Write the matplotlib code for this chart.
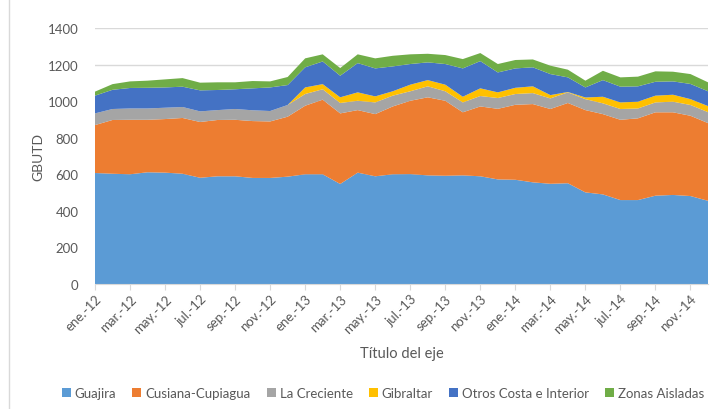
import matplotlib.pyplot as plt
import numpy as np

plt.rcParams["font.family"] = ["Lato", "DejaVu Sans"]

months = [
    "ene.-12", "feb.-12", "mar.-12", "abr.-12", "may.-12", "jun.-12",
    "jul.-12", "ago.-12", "sep.-12", "oct.-12", "nov.-12", "dic.-12",
    "ene.-13", "feb.-13", "mar.-13", "abr.-13", "may.-13", "jun.-13",
    "jul.-13", "ago.-13", "sep.-13", "oct.-13", "nov.-13", "dic.-13",
    "ene.-14", "feb.-14", "mar.-14", "abr.-14", "may.-14", "jun.-14",
    "jul.-14", "ago.-14", "sep.-14", "oct.-14", "nov.-14", "dic.-14",
]

# GBTUD per field
guajira = [607, 603, 600, 611, 609, 603, 581, 589, 589, 580, 580, 587,
           600, 600, 547, 609, 589, 600, 601, 594, 592, 594, 589, 572,
           570, 556, 548, 551, 501, 490, 459, 459, 483, 487, 481, 455]
cusiana = [262, 294, 298, 287, 293, 305, 305, 308, 309, 311, 309, 328,
           375, 408, 386, 342, 340, 371, 401, 427, 410, 345, 382, 386,
           410, 428, 409, 439, 450, 439, 439, 447, 456, 452, 439, 425]
creciente = [64, 60, 62, 62, 62, 60, 58, 54, 59, 59, 57, 64,
             64, 57, 57, 51, 64, 59, 52, 60, 52, 54, 57, 59,
             59, 60, 58, 58, 60, 59, 59, 54, 54, 58, 59, 60]
gibraltar = [0, 0, 0, 0, 0, 0, 0, 0, 0, 0, 0, 0,
             36, 28, 31, 46, 33, 24, 36, 34, 36, 31, 42, 31,
             34, 37, 18, 2, 9, 36, 36, 37, 37, 38, 32, 33]
otros = [97, 105, 112, 113, 111, 111, 115, 110, 108, 120, 129, 109,
         110, 124, 118, 160, 153, 136, 113, 97, 113, 155, 149, 109,
         106, 104, 115, 80, 55, 91, 86, 84, 76, 73, 83, 81]
aisladas = [22, 31, 36, 39, 44, 47, 42, 42, 38, 40, 33, 44,
            49, 39, 42, 48, 55, 58, 53, 47, 49, 51, 44, 46,
            46, 43, 46, 42, 37, 51, 51, 53, 57, 53, 54, 49]

series_names = ["Guajira", "Cusiana-Cupiagua", "La Creciente", "Gibraltar",
                "Otros Costa e Interior", "Zonas Aisladas"]
colors = ["#5B9BD5", "#ED7D31", "#A5A5A5", "#FFC000", "#4472C4", "#70AD47"]

fig = plt.figure(figsize=(7.22, 4.10), dpi=100)
ax = fig.add_axes([95 / 722, 1 - 285 / 410, (708 - 95) / 722, (285 - 29) / 410])

x = np.arange(len(months))
ax.stackplot(x, guajira, cusiana, creciente, gibraltar, otros, aisladas,
             colors=colors, labels=series_names, linewidth=0)

txt = "#595959"
ax.set_xlim(0, len(months) - 1)
ax.set_ylim(0, 1400)
ax.set_yticks(range(0, 1401, 200))
ax.yaxis.grid(True, color="#D9D9D9", linewidth=1)
ax.set_axisbelow(True)
for s in ["top", "right", "left"]:
    ax.spines[s].set_visible(False)
ax.spines["bottom"].set_color("#D9D9D9")
ax.tick_params(axis="y", length=0, labelsize=9.5, labelcolor=txt, pad=12)
ax.set_xticks(x[::2])
ax.set_xticklabels(months[::2], rotation=45, ha="right", rotation_mode="anchor")
ax.tick_params(axis="x", length=4, color="#D9D9D9", labelsize=9.5,
               labelcolor=txt, pad=2)

ax.set_ylabel("GBUTD", fontsize=10, color=txt, labelpad=2)
ax.set_xlabel("Título del eje", fontsize=10.5, color=txt, labelpad=8)

handles, labels = ax.get_legend_handles_labels()
fig.legend(handles, labels, loc="center", bbox_to_anchor=(383 / 722, 1 - 394 / 410),
           ncol=6, frameon=False, fontsize=9.5, labelcolor=txt,
           handlelength=0.7, handleheight=0.7, handletextpad=0.3, columnspacing=1.2)

fig.add_artist(plt.Line2D([9 / 722, 9 / 722], [0, 1], color="#D9D9D9", linewidth=1))

fig.savefig("out.png", dpi=100)
